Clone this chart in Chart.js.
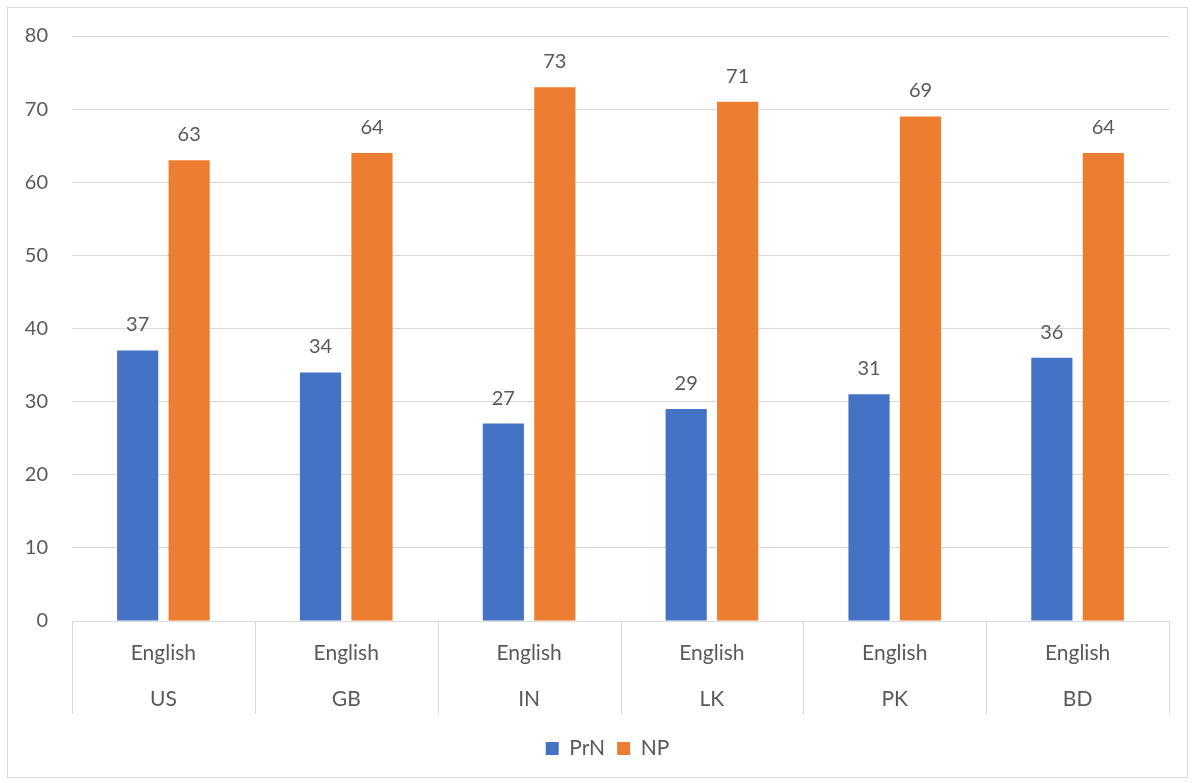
<!DOCTYPE html>
<html>
<head>
<meta charset="utf-8">
<script src="https://cdn.jsdelivr.net/npm/chart.js@4.4.1/dist/chart.umd.min.js"></script>
<style>
  html, body { margin: 0; padding: 0; background: #fff; }
  #wrap { position: absolute; left: 0; top: 0; width: 1194px; height: 783px; }
</style>
</head>
<body>
<div id="wrap"><canvas id="chart"></canvas></div>
<script>
const countries = ["US", "GB", "IN", "LK", "PK", "BD"];
const languages = ["English", "English", "English", "English", "English", "English"];
const prnValues = [37, 34, 27, 29, 31, 36];
const npValues = [63, 64, 73, 71, 69, 64];
const yTicks = [0, 10, 20, 30, 40, 50, 60, 70, 80];

const FONT = "Lato, 'Open Sans', sans-serif";
const TEXT = "#595959";
const GRID = "#d9d9d9";

// frame, value labels and the two-level category axis
const excelBits = {
  id: "excelBits",
  afterLayout(chart) {
    // legend sits a bit right of centre in the original
    if (chart.legend) chart.legend.left += 46;
  },
  beforeDraw(chart) {
    const ctx = chart.ctx;
    ctx.save();
    ctx.strokeStyle = GRID;
    ctx.lineWidth = 1;
    ctx.strokeRect(7.5, 7.5, 1180, 770);
    ctx.restore();
  },
  afterDraw(chart) {
    const ctx = chart.ctx;
    const area = chart.chartArea;
    const x = chart.scales.x;
    const n = chart.data.labels.length;
    const w = (area.right - area.left) / n;
    ctx.save();
    // separators below the axis
    ctx.strokeStyle = GRID;
    ctx.lineWidth = 1;
    ctx.beginPath();
    for (let i = 0; i <= n; i++) {
      const px = Math.round(area.left + i * w) + 0.5;
      ctx.moveTo(px, area.bottom);
      ctx.lineTo(px, area.bottom + 93);
    }
    ctx.stroke();
    // category labels
    ctx.fillStyle = TEXT;
    ctx.font = "21px " + FONT;
    ctx.textAlign = "center";
    ctx.textBaseline = "middle";
    for (let i = 0; i < n; i++) {
      const cx = x.getPixelForValue(i);
      ctx.fillText(languages[i], cx, area.bottom + 32);
      ctx.fillText(countries[i], cx, area.bottom + 78);
    }
    // value labels
    ctx.font = "20px " + FONT;
    ctx.textBaseline = "alphabetic";
    chart.data.datasets.forEach((ds, di) => {
      chart.getDatasetMeta(di).data.forEach((bar, i) => {
        ctx.fillText(String(ds.data[i]), bar.x, bar.y - 19);
      });
    });
    ctx.restore();
  }
};

new Chart(document.getElementById("chart"), {
  type: "bar",
  data: {
    labels: countries,
    datasets: [
      { label: "PrN", data: prnValues, backgroundColor: "#4472C4" },
      { label: "NP", data: npValues, backgroundColor: "#ED7D31" }
    ]
  },
  options: {
    responsive: true,
    maintainAspectRatio: false,
    animation: false,
    devicePixelRatio: 1,
    layout: { padding: { left: 0, right: 25, top: 36, bottom: 14 } },
    datasets: { bar: { categoryPercentage: 0.563, barPercentage: 0.8 } },
    scales: {
      x: {
        grid: { display: false },
        border: { display: true, color: GRID, width: 1 },
        ticks: { display: false },
        afterFit(scale) { scale.height = 105; }
      },
      y: {
        min: 0,
        max: 80,
        afterBuildTicks(scale) { scale.ticks = yTicks.map(v => ({ value: v })); },
        grid: { color: GRID, drawTicks: false },
        border: { display: false },
        ticks: { color: TEXT, font: { family: FONT, size: 20 }, padding: 24 },
        afterFit(scale) { scale.width = 72; }
      }
    },
    plugins: {
      legend: {
        position: "bottom",
        labels: {
          color: TEXT,
          font: { family: FONT, size: 21 },
          boxWidth: 13,
          boxHeight: 13,
          padding: 12
        }
      },
      tooltip: { enabled: false }
    }
  },
  plugins: [excelBits]
});
</script>
</body>
</html>
